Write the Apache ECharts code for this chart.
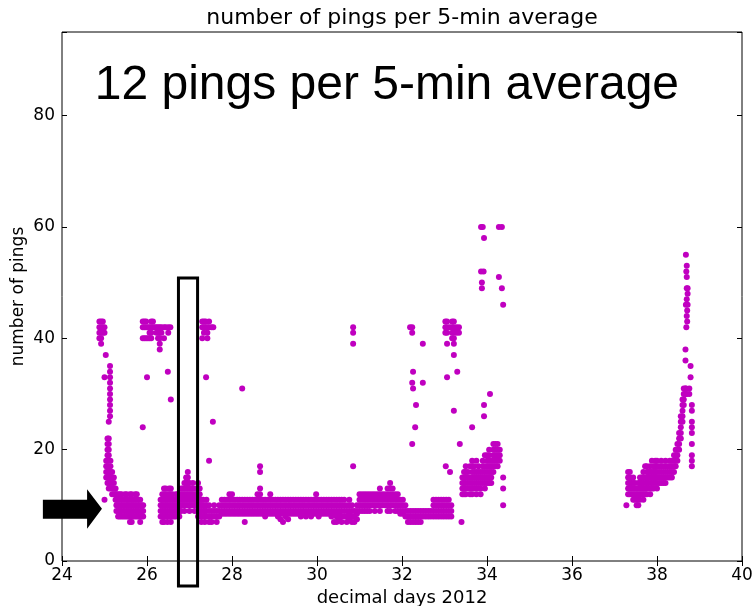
<!DOCTYPE html>
<html><head><meta charset="utf-8">
<script src="https://cdn.jsdelivr.net/npm/echarts@6/dist/echarts.min.js"></script>
<style>html,body{margin:0;padding:0;background:#fff}#c{width:755px;height:606px}</style>
</head><body><div id="c"></div>
<script>
// ---- data: each column is [x (decimal day), y values ...] ----
const xTicks = [24, 26, 28, 30, 32, 34, 36, 38, 40];
const yTicks = [0, 20, 40, 60, 80];

const peak25 = [
  [24.88, 40,41,42,43], [24.92, 39,40,41,42,43], [24.96, 41,42,43], [25.00, 41,42,33,11],
  [25.03, 37], [25.13, 26,27,28,29,30,31,32,33,34,35], [25.10, 25,22],
  [25.04, 15,16,17,18], [25.07, 14,15,16,17,18,19,20,21,22], [25.10, 13,14,15,16,17,19,20,21],
  [25.14, 13,14,15,16,17,18], [25.18, 12,13,14,15,16], [25.22, 12,13,14,15], [25.26, 11,12,13]
];
const band25 = [
  [25.28, 9,10,11,12], [25.32, 8,9,10,11,12], [25.36, 8,9,10,11,12], [25.40, 8,9,10,11,12],
  [25.44, 8,9,10,11], [25.48, 8,9,10,11,12], [25.52, 8,9,10,11,12], [25.56, 8,9,10,11],
  [25.60, 7,8,9,10,11,12], [25.64, 7,8,9,10,11,12], [25.68, 8,9,10,11], [25.72, 8,9,10,11,12],
  [25.76, 8,9,10,11,12], [25.80, 8,9,10,11], [25.84, 7,8,9,10,11], [25.88, 8,9,10], [25.91, 8,9,10]
];
const peak26 = [
  [25.90, 40,42,43,24], [25.94, 40,42,43], [25.98, 40,42,43], [26.00, 33], [26.02, 40,42],
  [26.06, 40,41,42], [26.10, 40,41,42,43], [26.14, 42,43], [26.18, 42], [26.22, 41,42],
  [26.26, 40,41,42], [26.30, 38,39,40,41,42], [26.34, 41,42], [26.40, 40,42], [26.44, 42],
  [26.49, 34], [26.50, 41,42], [26.55, 42], [26.56, 29]
];
const band26 = [
  [26.32, 8,9,10,11], [26.36, 7,8,9,10,11,12], [26.40, 7,8,9,10,11,12,13], [26.44, 8,9,10,11,12,13],
  [26.48, 7,8,9,10,11,12], [26.52, 8,9,10,11,12,13], [26.56, 7,8,9,10,11,12,13], [26.60, 8,9,10,11,12],
  [26.64, 8,9,10,11], [26.68, 8,9,10,11,12], [26.72, 9,10,11,12], [26.76, 8,9,10,11,12],
  [26.80, 9,10,11,12,13], [26.84, 10,11,12,13], [26.88, 9,10,11,12,13,14], [26.92, 10,11,12,13,14,15],
  [26.96, 10,11,12,13,14,15,16], [27.00, 9,10,11,12,13,14], [27.04, 10,11,12,13], [27.08, 10,11,12,13,14],
  [27.12, 9,10,11,12], [27.16, 10,11,12,13], [27.20, 8,9,10,11,12,13,14], [27.24, 8,9,10,11,12,13],
  [27.28, 7,8,9,10,11], [27.32, 8,9,10,11], [27.36, 7,8,9,10], [27.40, 8,9,10,11]
];
const peak27 = [
  [27.30, 40,42,43], [27.34, 41,42,43], [27.38, 42,43], [27.39, 33], [27.42, 40,41,42],
  [27.46, 42,43,18], [27.52, 42], [27.55, 25], [27.56, 42], [28.24, 31]
];
const bandMid = [
  [27.46, 7,8,9,10], [27.52, 7,8,9], [27.58, 8,9,10], [27.64, 7,8,9], [27.70, 8,9,10],
  [27.76, 8.5,9,10,11], [27.82, 8.5,9,10,11], [27.88, 8.5,9,10,11], [27.94, 8.5,9,10,11,12],
  [28.00, 8.5,9,10,11,12], [28.06, 8.5,9,10,11], [28.12, 8.5,9,10,11], [28.18, 8.5,9,10,11],
  [28.24, 8.5,9,10,11], [28.30, 7,8.5,9,10,11], [28.36, 8.5,9,10,11], [28.42, 8.5,9,10,11],
  [28.48, 8.5,9,10,11], [28.54, 8.5,9,10,11], [28.60, 8.5,9,10,11,12], [28.66, 8.5,9,10,11,12,13,16,17],
  [28.72, 8.5,9,10,11], [28.78, 8,9,10,11], [28.84, 8.5,9,10,11], [28.90, 8.5,9,10,11,12],
  [28.96, 8.5,9,10,11], [29.02, 8.5,9,10,11], [29.08, 8,9,10,11], [29.14, 7.5,8.5,9,10,11],
  [29.20, 7,8.5,9,10,11], [29.26, 8,9,10,11], [29.32, 7.5,8.5,9,10,11], [29.38, 8.5,9,10,11],
  [29.44, 8.5,9,10,11], [29.50, 8.5,9,10,11], [29.56, 8.5,9,10,11], [29.62, 8,9,10,11],
  [29.68, 8.5,9,10,11], [29.74, 8,9,10,11], [29.80, 8.5,9,10,11], [29.86, 8,9,10,11],
  [29.92, 8.5,9,10,11], [29.98, 8.5,9,10,11,12], [30.04, 8,9,10,11], [30.10, 8.5,9,10,11],
  [30.16, 8.5,9,10,11], [30.22, 8.5,9,10,11], [30.28, 8.5,9,10,11], [30.34, 8,9,10,11],
  [30.40, 7,8.5,9,10,11], [30.46, 7,8,9,10,11], [30.52, 7.5,8.5,9,10,11], [30.58, 7,8,9,10,11],
  [30.64, 8,9,10,11], [30.70, 7,8,9,10], [30.76, 7.5,8.5,9,10,11], [30.82, 7,8,9,10],
  [30.88, 7,8,9], [30.94, 7.5,8.5,9,10]
];
const spike31 = [[30.85, 39,41,42,17]];
const band31 = [
  [31.00, 9,10,11,12], [31.06, 9,10,11,12], [31.12, 9,10,11,12], [31.18, 9,10,11,12],
  [31.24, 9,10,11,12], [31.30, 10,11,12], [31.36, 9,10,11,12], [31.42, 10,11,12],
  [31.48, 9,10,11,12,13], [31.54, 10,11,12], [31.60, 10,11,12], [31.66, 9,10,11,12,13],
  [31.72, 9,10,11,12,13,14], [31.78, 10,11,12,13], [31.84, 9,10,11,12], [31.90, 9,10,11,12],
  [31.96, 8.5,9,10,11], [32.02, 8.5,9,10,11], [32.08, 8,9,10]
];
const band32 = [
  [32.14, 7,8,9], [32.20, 7,8,9], [32.26, 7,8,9], [32.32, 7,8,9], [32.38, 7,8,9],
  [32.44, 7,8,9], [32.50, 8,9], [32.56, 8,9], [32.62, 8,9], [32.68, 8,9],
  [32.74, 8,9,10,11], [32.80, 8,9,10,11], [32.86, 8,9,10,11], [32.92, 8,9,10,11],
  [32.98, 8,9,10,11], [33.04, 8,9,10,11], [33.10, 8,9,10,11], [33.16, 8,9,10]
];
const spike32 = [
  [32.19, 42], [32.24, 41,42,32,21], [32.26, 34,31], [32.31, 24], [32.33, 28], [32.49, 39,32]
];
const spike33 = [
  [33.02, 41,42,43], [33.06, 39,41,42,43,33], [33.12, 42], [33.18, 40,41,42,43],
  [33.22, 39,40,41,42,43,37,27], [33.28, 41,42], [33.30, 34], [33.34, 41,42],
  [33.36, 21], [33.03, 17], [33.13, 16], [33.40, 7]
];
const spike34 = [
  [33.86, 60,52], [33.90, 60], [33.93, 58,28,26], [33.92, 52], [33.88, 50,49],
  [34.28, 60,51], [34.35, 60,49], [34.38, 46], [34.07, 30], [33.65, 24]
];
const cluster34 = [
  [33.42, 12,13,14,15], [33.46, 12,13,14,15,16], [33.50, 12,13,14,15,16,17], [33.55, 13,14,15,16],
  [33.60, 12,13,14,15,17], [33.65, 12,13,14,15,16,17,18], [33.70, 13,14,15,16,17], [33.75, 12,13,14,15,16,18],
  [33.80, 13,14,15,16,17], [33.85, 12,13,14,15,16], [33.90, 14,15,16,17,18], [33.95, 13,14,15,16,17,19],
  [34.00, 14,15,16,17,18,19], [34.05, 14,15,16,17,18,19,20], [34.10, 14,15,16,17,18], [34.15, 16,17,18,19,20,21],
  [34.20, 17,18,19,20,21], [34.25, 17,18,19,20,21], [34.30, 18,19,20], [34.38, 10,13,15]
];
const cluster38 = [
  [37.28, 10], [37.32, 12,13,14,15,16], [37.36, 12,13,14,15,16], [37.40, 12,13,14],
  [37.44, 11,12,13,14,15], [37.48, 11,12,13,14], [37.52, 10,11,12,13], [37.56, 10,11,12,13,14],
  [37.60, 11,12,13,14,15], [37.64, 12,13,14,15], [37.68, 11,12,13,14,15,16], [37.72, 12,13,14,15,17],
  [37.76, 12,13,14,15,16,17], [37.80, 13,14,15,16], [37.84, 12,13,14,15,16,17], [37.88, 13,14,15,16,18],
  [37.92, 13,14,15,16,17], [37.96, 14,15,16,17,18], [38.00, 13,14,15,16,17,18], [38.05, 14,15,16,17],
  [38.10, 14,15,16,17,18], [38.15, 14,15,16,17], [38.20, 14,15,16,17,18], [38.25, 15,16,17],
  [38.30, 15,16,17,18], [38.35, 15,16,17,18], [38.40, 16,17,18,19], [38.44, 17,18,19,20],
  [38.48, 18,19,20,21], [38.52, 20,21,22,23], [38.56, 22,23,24,25,26], [38.60, 25,26,27,28,29],
  [38.63, 28,29,30,31], [38.67, 30,31,36,38], [38.68, 55,46,31], [38.69, 52,42], [38.70, 53,51,49,47,44,30],
  [38.71, 45,43], [38.72, 49,48,46], [38.76, 30,31], [38.79, 33,35],
  [38.82, 17,18,19,21,23,24,25,27,28]
];

const groups = [peak25, band25, peak26, band26, peak27, bandMid, spike31, band31,
                band32, spike32, spike33, spike34, cluster34, cluster38];
const points = [];
groups.forEach(g => g.forEach(col => { for (let i = 1; i < col.length; i++) points.push([col[0], col[i]]); }));

const FONT = 'DejaVu Sans';
const chart = echarts.init(document.getElementById('c'), null, {renderer: 'canvas'});
const axisCommon = {
  axisLine: {show: false},
  splitLine: {show: false},
  axisTick: {show: true, inside: true, length: 5, lineStyle: {color: '#000', width: 1}}
};
chart.setOption({
  animation: false,
  backgroundColor: '#fff',
  grid: {left: 62, right: 13, top: 32, bottom: 45, outerBoundsMode: 'none', containLabel: false,
         show: true, borderColor: '#000', borderWidth: 1, backgroundColor: 'transparent'},
  xAxis: [
    Object.assign({type: 'value', min: xTicks[0], max: xTicks[xTicks.length - 1], interval: 2, position: 'bottom',
      name: 'decimal days 2012', nameLocation: 'middle', nameGap: 26,
      nameTextStyle: {fontFamily: FONT, fontSize: 18, color: '#000'},
      axisLabel: {fontFamily: FONT, fontSize: 17, color: '#000', margin: 6}}, axisCommon),
    Object.assign({type: 'value', min: xTicks[0], max: xTicks[xTicks.length - 1], interval: 2, position: 'top',
      axisLabel: {show: false}}, axisCommon)
  ],
  yAxis: [
    Object.assign({type: 'value', min: 0, max: 95, interval: 20, position: 'left',
      axisLabel: {fontFamily: FONT, fontSize: 17, color: '#000', margin: 7,
        formatter: v => yTicks.indexOf(v) >= 0 ? String(v) : ''}}, axisCommon),
    Object.assign({type: 'value', min: 0, max: 95, interval: 20, position: 'right',
      axisLabel: {show: false}}, axisCommon)
  ],
  series: [{
    type: 'scatter', data: points, symbolSize: 6, xAxisIndex: 0, yAxisIndex: 0,
    itemStyle: {color: '#c000c0', opacity: 1}
  }]
});

const P = (x, y) => chart.convertToPixel({gridIndex: 0}, [x, y]);
const boxA = P(26.74, 50.8), boxB = P(27.19, -4.5);
const arrow = [P(23.55, 11.0), P(24.59, 11.0), P(24.59, 12.9), P(24.94, 9.37), P(24.59, 5.8), P(24.59, 7.6), P(23.55, 7.6)];
const note = P(24.77, 85.3);
const gridL = P(24, 0)[0], gridR = P(40, 0)[0];
const gridT = P(24, 95)[1], gridB = P(24, 0)[1];
chart.setOption({
  graphic: [
    {type: 'rect', shape: {x: boxA[0], y: boxA[1], width: boxB[0] - boxA[0], height: boxB[1] - boxA[1]},
     style: {fill: 'none', stroke: '#000', lineWidth: 3}, z: 100},
    {type: 'polygon', shape: {points: arrow}, style: {fill: '#000'}, z: 100},
    {type: 'text', x: note[0], y: note[1], style: {text: '12 pings per 5-min average', fontFamily: 'Liberation Sans',
      fontSize: 48, fill: '#000', textAlign: 'left', textVerticalAlign: 'middle'}, z: 100},
    {type: 'text', x: (gridL + gridR) / 2, y: 18, style: {text: 'number of pings per 5-min average', fontFamily: FONT,
      fontSize: 22, fill: '#000', textAlign: 'center', textVerticalAlign: 'middle'}, z: 100},
    {type: 'text', x: 19, y: (gridT + gridB) / 2, rotation: Math.PI / 2, style: {text: 'number of pings', fontFamily: FONT,
      fontSize: 17, fill: '#000', textAlign: 'center', textVerticalAlign: 'middle'}, z: 100}
  ]
});
</script></body></html>
